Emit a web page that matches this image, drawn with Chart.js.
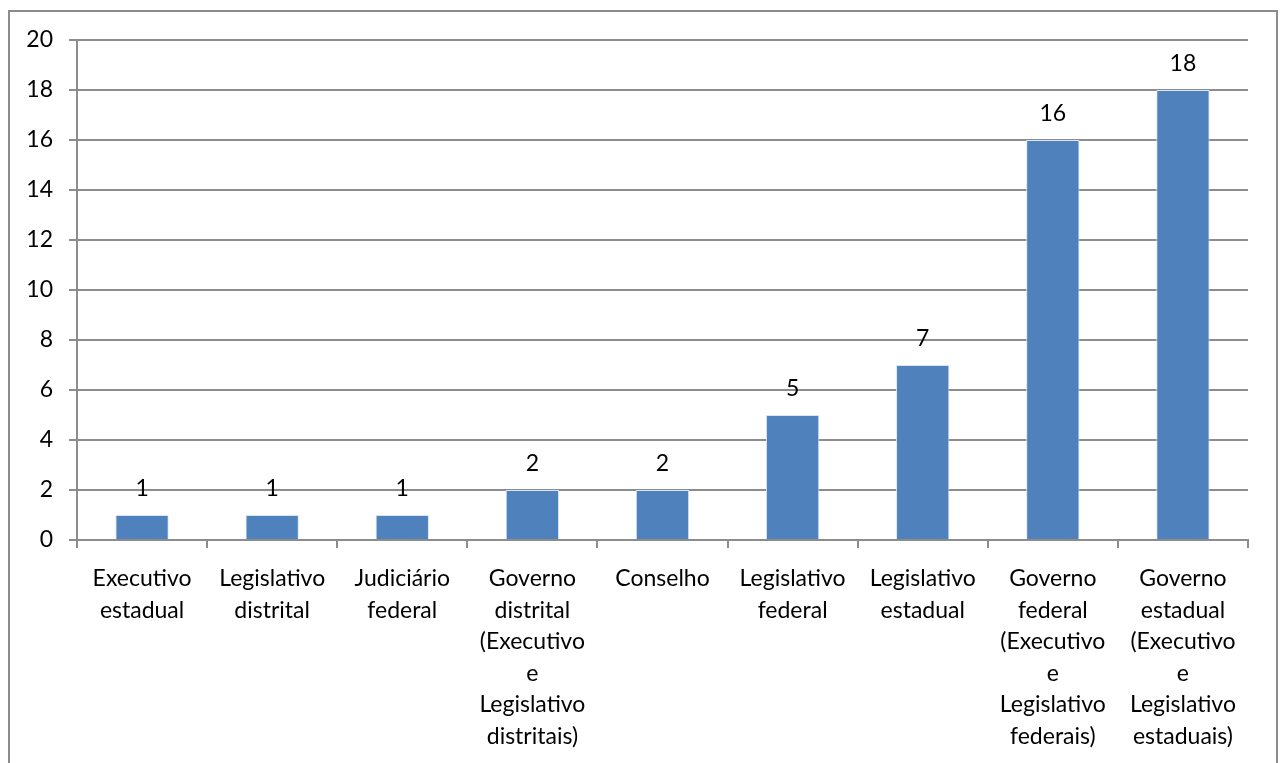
<!DOCTYPE html>
<html lang="pt">
<head>
<meta charset="UTF-8">
<title>Distribuição por esfera</title>
<style>
  html, body { margin: 0; padding: 0; background: #fff; overflow: hidden; }
  #wrap { position: relative; width: 1285px; height: 763px; }
</style>
</head>
<body>
<div id="wrap"><canvas id="grafico" width="1285" height="763"></canvas></div>

<script src="https://cdn.jsdelivr.net/npm/chart.js"></script>
<script>
// categorias (quebradas em linhas como no eixo)
var categorias = [
  ['Executivo', 'estadual'],
  ['Legislativo', 'distrital'],
  ['Judiciário', 'federal'],
  ['Governo', 'distrital', '(Executivo', 'e', 'Legislativo', 'distritais)'],
  ['Conselho'],
  ['Legislativo', 'federal'],
  ['Legislativo', 'estadual'],
  ['Governo', 'federal', '(Executivo', 'e', 'Legislativo', 'federais)'],
  ['Governo', 'estadual', '(Executivo', 'e', 'Legislativo', 'estaduais)']
];
var quantidades = [1, 1, 1, 2, 2, 5, 7, 16, 18];
var eixoY = { min: 0, max: 20, passo: 2 };

var fonte = 'Lato, "Open Sans", sans-serif';
var tamanho = 23;
var cinza = '#8c8c8c';

// moldura externa
var moldura = {
  id: 'moldura',
  beforeDraw: function (chart) {
    var c = chart.ctx;
    c.save();
    c.strokeStyle = '#8c8c8c';
    c.lineWidth = 2;
    c.strokeRect(9, 11, 1268, 800);
    c.restore();
  }
};

// rótulos de valor acima das barras
var rotulos = {
  id: 'rotulos',
  afterDatasetsDraw: function (chart) {
    var c = chart.ctx;
    var meta = chart.getDatasetMeta(0);
    c.save();
    c.font = tamanho + 'px ' + fonte;
    c.fillStyle = '#000';
    c.textAlign = 'center';
    c.textBaseline = 'middle';
    meta.data.forEach(function (bar, i) {
      c.fillText(String(chart.data.datasets[0].data[i]), bar.x, bar.y - 26);
    });
    c.restore();
  }
};

new Chart(document.getElementById('grafico'), {
  type: 'bar',
  data: {
    labels: categorias,
    datasets: [{
      data: quantidades,
      backgroundColor: '#4f81bd',
      borderColor: '#dbe5f1',
      borderWidth: 1,
      barPercentage: 0.41,
      categoryPercentage: 1
    }]
  },
  options: {
    responsive: false,
    animation: false,
    layout: { padding: { top: 40, right: 37, bottom: 0, left: 0 } },
    plugins: { legend: { display: false }, tooltip: { enabled: false } },
    scales: {
      x: {
        afterFit: function (s) { s.height = 223; },
        grid: { offset: true, drawOnChartArea: false, color: cinza, tickLength: 8, lineWidth: 2 },
        border: { color: cinza, width: 2 },
        ticks: {
          color: '#000',
          padding: 15,
          maxRotation: 0,
          autoSkip: false,
          font: { family: fonte, size: tamanho, lineHeight: 1.37 }
        }
      },
      y: {
        min: eixoY.min,
        max: eixoY.max,
        afterFit: function (s) { s.width = 77; },
        grid: { color: cinza, tickLength: 8, lineWidth: 2 },
        border: { color: cinza, width: 2 },
        ticks: {
          stepSize: eixoY.passo,
          color: '#000',
          padding: 16,
          font: { family: fonte, size: tamanho }
        }
      }
    }
  },
  plugins: [moldura, rotulos]
});
</script>
</body>
</html>
